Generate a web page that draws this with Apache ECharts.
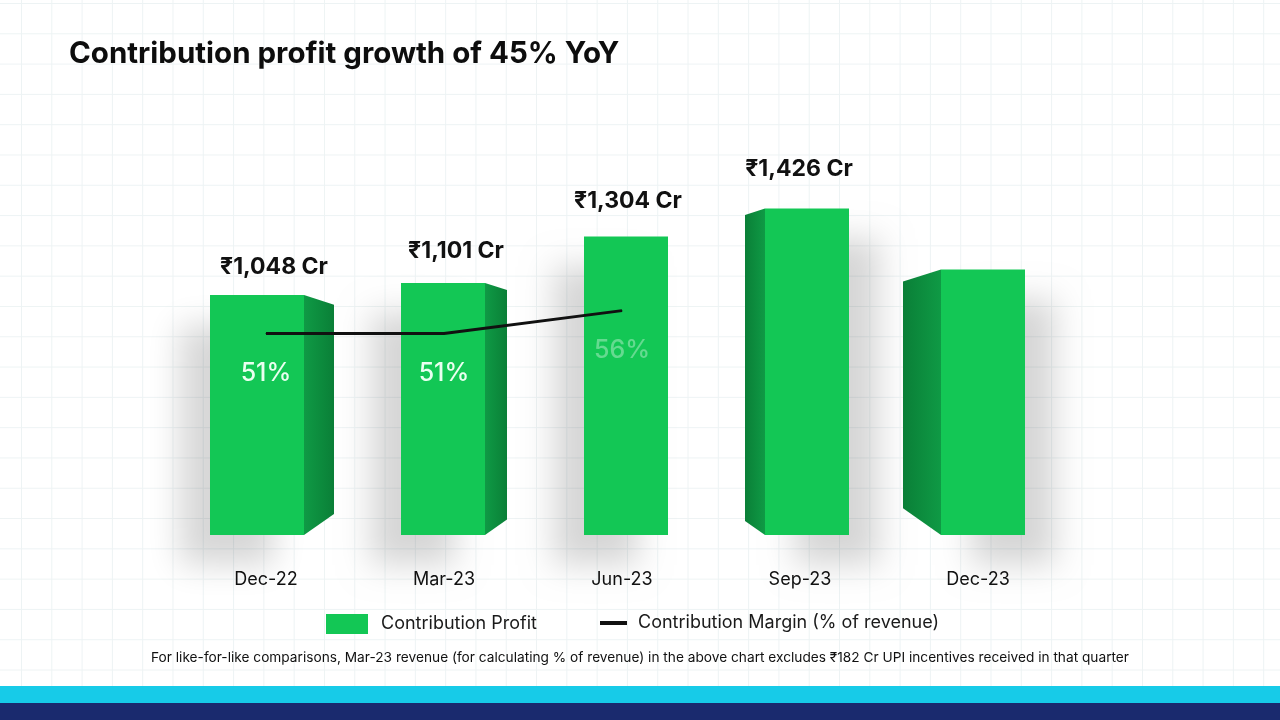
<!DOCTYPE html>
<html>
<head>
<meta charset="utf-8">
<title>Contribution profit growth of 45% YoY</title>
<script src="https://cdn.jsdelivr.net/npm/echarts@6/dist/echarts.min.js"></script>
<style>
  html, body { margin: 0; padding: 0; }
  body {
    width: 1280px; height: 720px; overflow: hidden;
    background-color: #ffffff;
    background-image:
      linear-gradient(to right, #edf3f4 1px, transparent 1px),
      linear-gradient(to bottom, #edf3f4 1px, transparent 1px);
    background-size: 30.3px 30.3px;
    background-position: 21px 3px;
  }
  #draw { width: 1280px; height: 720px; }
</style>
</head>
<body>
<div id="draw"></div>
<script>
// quarters on the x axis
var quarters = ['Dec-22', 'Mar-23', 'Jun-23', 'Sep-23', 'Dec-23'];
// contribution profit, ₹ Cr (Dec-23 unlabeled in the picture, estimated)
var profit = [1048, 1101, 1304, 1426, 1160];
var profitLabels = ['₹1,048 Cr', '₹1,101 Cr', '₹1,304 Cr', '₹1,426 Cr', ''];
// contribution margin, % of revenue (line only drawn up to Jun-23)
var margin = [51, 51, 56, null, null];
var marginLabels = ['51%', '51%', '56%', '', ''];

// look of each prism: side face depth (negative = side on the left) and small shift
var sideDepth = [30, 22, 0, -20, -38];
var prismShift = [6, 10, 4, -3, -14];

var myChart = echarts.init(document.getElementById('draw'), null, { renderer: 'canvas' });

var renderPrism = function(params, api) {
	var i = params.dataIndex;
	var top = api.coord([api.value(0), api.value(1)]);
	var base = api.coord([api.value(0), 0]);
	var fw = i === 0 ? 94 : 84;
	var sd = sideDepth[i];
	var cx = top[0] + prismShift[i] - sd / 2;
	var x0 = cx - fw / 2, x1 = cx + fw / 2;
	var children = [];
	children.push({
		type: 'rect',
		shape: { x: x0, y: top[1], width: fw, height: base[1] - top[1] },
		style: {
			fill: '#13c755',
			shadowBlur: 32,
			shadowColor: 'rgba(0,0,0,0.16)',
			shadowOffsetX: sd >= 0 ? -30 : 30,
			shadowOffsetY: 30
		}
	});
	if (sd !== 0) {
		var ex = sd > 0 ? x1 : x0;
		var fx = ex + sd;
		var drop = Math.abs(sd) * 0.32;
		children.push({
			type: 'polygon',
			shape: { points: [[ex, top[1]], [fx, top[1] + drop], [fx, base[1] - drop * 2.2], [ex, base[1]]] },
			style: {
				fill: new echarts.graphic.LinearGradient(sd > 0 ? 0 : 1, 0, sd > 0 ? 1 : 0, 0, [
					{ offset: 0, color: '#0f9a45' },
					{ offset: 1, color: '#0a7f37' }
				])
			}
		});
	}
	if (profitLabels[i]) {
		children.push({
			type: 'text',
			style: {
				text: profitLabels[i],
				x: top[0] + prismShift[i] + 2,
				y: top[1] - 16 - i * 4,
				align: 'center',
				verticalAlign: 'bottom',
				fill: '#111111',
				font: 'bold 23px Inter, "Noto Sans", sans-serif'
			}
		});
	}
	return { type: 'group', children: children };
};

var option = {
	animation: false,
	title: [ {
		text: 'Contribution profit growth of 45% YoY',
		left: 64,
		top: 34,
		textStyle: {
			fontFamily: 'Inter',
			fontSize: 29.5,
			fontWeight: 700,
			color: '#0d0d0d'
		}
	}, {
		text: 'For like-for-like comparisons, Mar-23 revenue (for calculating % of revenue) in the above chart excludes ₹182 Cr UPI incentives received in that quarter',
		left: 'center',
		top: 646,
		textStyle: {
			fontFamily: 'Inter',
			fontSize: 13.7,
			fontWeight: 400,
			color: '#111111'
		}
	} ],
	legend: [ {
		data: [ { name: 'Contribution Profit', icon: 'rect' } ],
		left: 321,
		top: 609,
		itemWidth: 42,
		itemHeight: 20,
		itemGap: 12,
		textStyle: { fontFamily: 'Inter', fontSize: 18, color: '#1a1a1a', padding: [0, 0, 0, 8] }
	}, {
		data: [ { name: 'Contribution Margin (% of revenue)', icon: 'rect', itemStyle: { color: '#111111' } } ],
		left: 595,
		top: 609,
		itemWidth: 27,
		itemHeight: 4,
		textStyle: { fontFamily: 'Inter', fontSize: 18, color: '#1a1a1a', padding: [0, 0, 0, 6] }
	} ],
	grid: {
		left: 177,
		right: 213,
		top: 100,
		bottom: 185
	},
	xAxis: {
		type: 'category',
		data: quarters,
		axisLine: { show: false },
		axisTick: { show: false },
		axisLabel: {
			margin: 36,
			fontFamily: 'Inter',
			fontSize: 18,
			color: '#111111'
		}
	},
	yAxis: [ {
		type: 'value',
		min: 0,
		max: 1900,
		show: false
	}, {
		type: 'value',
		min: 7,
		max: 102,
		show: false
	} ],
	series: [ {
		name: 'Contribution Profit',
		type: 'custom',
		renderItem: renderPrism,
		itemStyle: { color: '#13c755' },
		encode: { x: 0, y: 1 },
		data: profit.map(function(v, i) { return [i, v]; }),
		z: 2
	}, {
		name: 'Contribution Margin (% of revenue)',
		type: 'line',
		yAxisIndex: 1,
		data: margin.map(function(v, i) {
			return {
				value: v,
				label: {
					color: i === 2 ? 'rgba(255,255,255,0.35)' : '#eafff0'
				}
			};
		}),
		showSymbol: true,
		symbol: 'circle',
		symbolSize: 1,
		itemStyle: { color: '#111111' },
		lineStyle: { color: '#111111', width: 3 },
		label: {
			show: true,
			position: 'bottom',
			distance: 27,
			fontFamily: 'Inter',
			fontSize: 25,
			fontWeight: 500,
			formatter: function(p) { return marginLabels[p.dataIndex]; }
		},
		z: 5
	} ],
	graphic: [ {
		type: 'rect',
		left: 0,
		top: 686,
		shape: { width: 1280, height: 17 },
		style: { fill: '#17cbe8' },
		silent: true
	}, {
		type: 'rect',
		left: 0,
		top: 703,
		shape: { width: 1280, height: 17 },
		style: { fill: '#1a2a6e' },
		silent: true
	} ]
};
myChart.setOption(option);
</script>
</body>
</html>
